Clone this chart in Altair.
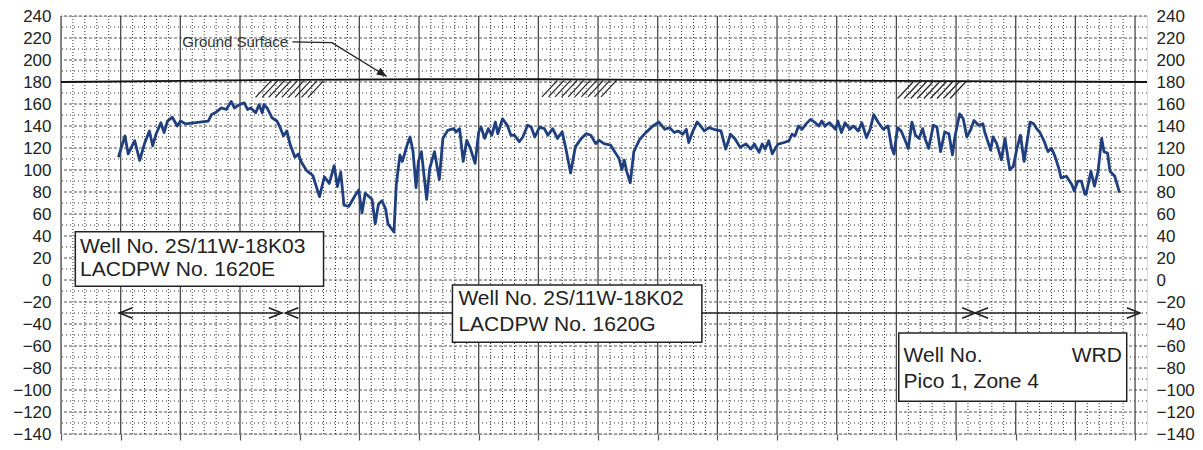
import altair as alt
import pandas as pd

# ---------------- data ----------------
well_years = [1929.81, 1930.36, 1930.63, 1931.18, 1931.59, 1932.0, 1932.41, 1932.68, 1932.96, 1933.37,
              1933.64, 1933.92, 1934.33, 1934.74, 1935.01, 1935.42, 1937.34, 1937.62, 1938.03, 1938.44,
              1938.85, 1939.26, 1939.53, 1939.95, 1940.36, 1940.63, 1940.9, 1941.32, 1941.59, 1941.86,
              1942.0, 1942.27, 1942.68, 1943.1, 1943.37, 1943.64, 1943.92, 1944.19, 1944.6, 1944.88,
              1945.15, 1945.56, 1946.1, 1946.66, 1947.07, 1947.48, 1947.89, 1948.16, 1948.44, 1948.71,
              1949.12, 1949.67, 1949.95, 1950.22, 1950.49, 1951.06, 1951.33, 1951.6, 1951.9, 1952.2,
              1952.4, 1952.9, 1953.1, 1953.4, 1953.6, 1953.8, 1954.0, 1954.25, 1954.5, 1954.75,
              1954.95, 1955.2, 1955.64, 1955.9, 1956.3, 1956.7, 1957.0, 1957.4, 1957.9, 1958.1,
              1958.4, 1958.7, 1959.0, 1959.3, 1959.7, 1960.0, 1960.2, 1960.5, 1960.8, 1961.1,
              1961.4, 1961.6, 1962.0, 1962.4, 1962.7, 1963.0, 1963.4, 1963.7, 1964.1, 1964.4,
              1964.7, 1965.1, 1965.5, 1965.8, 1966.2, 1966.6, 1967.0, 1967.3, 1967.7, 1968.1,
              1968.6, 1969.0, 1969.4, 1969.8, 1970.1, 1970.5, 1971.05, 1971.3, 1971.75, 1972.0,
              1972.2, 1972.4, 1972.7, 1973.0, 1973.5, 1974.0, 1974.6, 1975.1, 1975.6, 1976.0,
              1976.4, 1976.7, 1977.1, 1977.4, 1977.6, 1977.9, 1978.3, 1978.6, 1978.9, 1979.3,
              1979.7, 1980.3, 1980.7, 1981.1, 1981.5, 1981.9, 1982.4, 1982.8, 1983.1, 1983.5,
              1983.75, 1984.0, 1984.3, 1984.6, 1984.9, 1985.1, 1985.6, 1986.0, 1986.25, 1986.5,
              1986.8, 1987.1, 1987.4, 1987.8, 1988.2, 1988.5, 1988.75, 1989.0, 1989.4, 1989.9,
              1990.1, 1990.4, 1990.7, 1991.1, 1991.4, 1991.8, 1992.1, 1992.5, 1992.8, 1993.1,
              1993.5, 1993.9, 1994.3, 1994.6, 1994.8, 1995.1, 1995.4, 1995.7, 1996.0, 1996.3,
              1996.6, 1996.9, 1997.2, 1997.4, 1997.7, 1998.1, 1998.4, 1998.7, 1999.05, 1999.4,
              1999.7, 1999.9, 2000.3, 2000.6, 2000.9, 2001.2, 2001.5, 2001.9, 2002.25, 2002.4,
              2002.9, 2003.1, 2003.4, 2003.8, 2004.1, 2004.5, 2004.8, 2005.1, 2005.4, 2005.7,
              2006.2, 2006.5, 2006.75, 2007.0, 2007.4, 2007.7, 2008.0, 2008.3, 2008.6, 2008.8,
              2009.25, 2009.7, 2009.9, 2010.2, 2010.5, 2010.8, 2010.9, 2011.3, 2011.6, 2011.9,
              2012.2, 2012.4, 2012.7, 2012.9, 2013.3, 2013.7]
well_levels = [111.6, 131, 114.6, 126.6, 108.7, 124, 135.5, 122, 132.5, 143,
               134, 144.5, 148, 140, 144.5, 142, 144.5, 150.5, 152.8, 156.4,
               155, 162.4, 156.4, 159.4, 161, 155, 156.4, 152, 159.4, 152,
               159.4, 156.4, 147.5, 144.5, 138.5, 131, 135.5, 123.6, 111.6, 114.6,
               107, 99.7, 95, 75.8, 93.7, 87.8, 104, 85, 98, 68,
               67, 77.3, 81.8, 61, 78.8, 73.4, 51, 69, 72, 64.5,
               51, 43.6, 87, 113.7, 107.8, 115, 122.7, 130, 116.7, 84,
               107.8, 116.7, 73.4, 101.8, 116.7, 91.3, 128.7, 136, 137.6, 134.6,
               137.6, 107.8, 127, 119.7, 106, 134.6, 139, 128.7, 137.6, 131.6,
               143.6, 133, 146.6, 140.6, 131.6, 131.6, 125.7, 130, 140.6, 139,
               130, 139, 137.6, 131.6, 137.6, 128.7, 134.6, 119.7, 97.3, 121,
               128.7, 133, 131.6, 124, 127, 124, 122.7, 118.2, 110.7, 100.3,
               109, 98.8, 88.4, 116.7, 128, 134, 140, 143.6, 137, 138.5,
               134, 135.5, 132.5, 137, 125, 134, 143.6, 140, 135.5, 138.5,
               137, 135.5, 119, 132.5, 128, 120.6, 123.6, 119, 123.6, 116,
               123.6, 119, 126.6, 114.6, 120.6, 123.6, 125, 126.6, 132.5, 131,
               140, 137, 141.5, 146, 143, 140, 144.5, 140, 143, 137,
               144.5, 134, 143, 137, 140, 135.5, 143, 129.5, 137, 150.4,
               143, 137, 140, 120.6, 114.6, 138.5, 135.5, 128, 119.5, 143.6,
               131.6, 128.7, 137.6, 128.7, 119.7, 140.6, 139, 116.7, 134.6, 133,
               113.7, 130, 151, 146.6, 130, 136, 145, 140.6, 142, 134.6,
               118.2, 130, 124.2, 109.3, 128.7, 100.3, 103.3, 119.7, 131.6, 107.8,
               143.6, 142, 137.6, 134.6, 125.7, 116.7, 119.7, 112.2, 101.8, 92.8,
               94.3, 86.9, 80.9, 89.9, 89.9, 77.9, 77.9, 98.8, 85.4, 98.8,
               128.7, 116.7, 115.2, 98.8, 94.3, 79.4]

ground_years = [1925, 1935, 1945, 1955, 1965, 1975, 1985, 1995, 2005, 2016]
ground_levels = [180, 181, 182, 182.5, 182.5, 182, 181.5, 181, 180.5, 180]

# hatch strokes under the ground surface (top x of each stroke, top level)
hatch_x = [1942.6, 1943.15, 1943.7, 1944.25, 1944.8, 1945.35, 1945.9, 1946.45, 1947.0,
           1966.6, 1967.15, 1967.7, 1968.25, 1968.8, 1969.35, 1969.9, 1970.45, 1971.0, 1971.55,
           1996.4, 1996.95, 1997.5, 1998.05, 1998.6, 1999.15, 1999.7, 2000.25, 2000.8]
hatch_top = [181] * 9 + [181.5] * 10 + [180] * 9

# well-period arrows at -30
arrow_start = [1929.9, 1943.8, 2001.6]
arrow_end = [1943.5, 2001.6, 2015.4]
arrow_level = [-30, -30, -30]

# label boxes
box_x = [1926.2, 1957.8, 1995.2]
box_x2 = [1947.0, 1978.7, 2014.3]
box_top = [43.8, -4.6, -48.2]
box_bottom = [-5.6, -56.7, -110.2]

label_text = ["Well No. 2S/11W-18K03", "LACDPW No. 1620E",
              "Well No. 2S/11W-18K02", "LACDPW No. 1620G",
              "Well No.", "Pico 1, Zone 4"]
label_x = [1926.6, 1926.6, 1958.3, 1958.3, 1995.6, 1995.6]
label_y = [29.9, 9.3, -17.2, -40.6, -68.9, -92.3]
wrd_text = ["WRD"]
wrd_x = [2013.9]
wrd_y = [-68.9]

leader_x = [1944.4, 1947.7, 1952.3]
leader_y = [216.5, 215.8, 185]
ground_label = ["Ground Surface"]
ground_label_x = [1939.6]
ground_label_y = [216.5]

y_ticks = list(range(-140, 241, 20))
y_half = list(range(-130, 240, 20))
x_major = list(range(1925, 2016, 5))
x_minor = [y for y in range(1926, 2016) if y % 5 != 0]

# ---------------- chart ----------------
W, H = 1086, 418
FONT = "Liberation Sans"
xs = alt.Scale(domain=[1925, 2016], nice=False, zero=False)
ys = alt.Scale(domain=[-140, 240], nice=False, zero=False)
xaxis = alt.Axis(values=x_major, labels=False, ticks=True, tickSize=6, tickColor="#555",
                 tickWidth=1.2, domain=False, grid=False, title=None)


def X(f):
    return alt.X(f, type="quantitative", scale=xs, axis=xaxis)


def Y(f, axis=None):
    return alt.Y(f, type="quantitative", scale=ys, axis=axis)


left_axis = alt.Axis(orient="left", values=y_ticks, grid=False, ticks=False, domain=False,
                     labelFontSize=17, labelColor="#222", labelPadding=10, title=None, labelFont=FONT)
right_axis = alt.Axis(orient="right", values=y_ticks, grid=False, ticks=False, domain=False,
                      labelFontSize=17, labelColor="#222", labelPadding=9, title=None, labelFont=FONT)

hmaj = alt.Chart(pd.DataFrame({"v": y_ticks})).mark_rule(
    color="#555", strokeWidth=1, strokeDash=[3, 2]).encode(y=Y("v", left_axis))
hmin = alt.Chart(pd.DataFrame({"v": y_half})).mark_rule(
    color="#333", strokeWidth=1, strokeDash=[1, 3]).encode(y=Y("v"))
vmin = alt.Chart(pd.DataFrame({"t": x_minor})).mark_rule(
    color="#333", strokeWidth=1, strokeDash=[1, 2]).encode(x=X("t"))
vmaj = alt.Chart(pd.DataFrame({"t": x_major})).mark_rule(
    color="#4a4a4a", strokeWidth=1.3).encode(x=X("t"))

ground = alt.Chart(pd.DataFrame({"t": ground_years, "v": ground_levels})).mark_line(
    color="#111", strokeWidth=1.8).encode(x=X("t"), y=Y("v"))

hatch_df = pd.DataFrame({"t": hatch_x, "v": hatch_top})
hatch_df["t2"] = hatch_df["t"] - 1.3
hatch_df["v2"] = hatch_df["v"] - 15
hatch = alt.Chart(hatch_df).mark_rule(color="#222", strokeWidth=1.2).encode(
    x=X("t"), x2="t2", y=Y("v"), y2="v2")

well = alt.Chart(pd.DataFrame({"t": well_years, "v": well_levels})).mark_line(
    color="#1f3f7f", strokeWidth=2.8, strokeJoin="round").encode(x=X("t"), y=Y("v", right_axis))

leader = alt.Chart(pd.DataFrame({"t": leader_x, "v": leader_y, "o": [0, 1, 2]})).mark_line(
    color="#222", strokeWidth=1.4).encode(x=X("t"), y=Y("v"), order="o")
leader_head = alt.Chart(pd.DataFrame({"t": leader_x[-1:], "v": leader_y[-1:]})).mark_point(
    shape="M0,0L-1,-0.4L-1,0.4Z", size=400, angle=32, filled=True, color="#222", opacity=1
).encode(x=X("t"), y=Y("v"))
ground_txt = alt.Chart(pd.DataFrame({"t": ground_label_x, "v": ground_label_y, "s": ground_label})).mark_text(
    fontSize=15, font=FONT, color="#333", align="center", baseline="middle").encode(
    x=X("t"), y=Y("v"), text="s")

arr_df = pd.DataFrame({"t": arrow_start, "t2": arrow_end, "v": arrow_level})
arrows = alt.Chart(arr_df).mark_rule(color="#222", strokeWidth=1.6).encode(x=X("t"), x2="t2", y=Y("v"))
heads_l = alt.Chart(arr_df).mark_point(
    shape="M1,-0.4L0,0L1,0.4", size=676, filled=False, color="#222", strokeWidth=1.6, opacity=1
).encode(x=X("t"), y=Y("v"))
heads_r = alt.Chart(arr_df).mark_point(
    shape="M-1,-0.4L0,0L-1,0.4", size=676, filled=False, color="#222", strokeWidth=1.6, opacity=1
).encode(x=alt.X("t2", type="quantitative", scale=xs, axis=xaxis), y=Y("v"))

boxes = alt.Chart(pd.DataFrame({"t": box_x, "t2": box_x2, "v": box_top, "v2": box_bottom})).mark_rect(
    fill="white", stroke="#222", strokeWidth=1.5).encode(x=X("t"), x2="t2", y=Y("v"), y2="v2")
labels = alt.Chart(pd.DataFrame({"t": label_x, "v": label_y, "s": label_text})).mark_text(
    fontSize=21, font=FONT, color="#222", align="left", baseline="middle").encode(
    x=X("t"), y=Y("v"), text="s")
wrd = alt.Chart(pd.DataFrame({"t": wrd_x, "v": wrd_y, "s": wrd_text})).mark_text(
    fontSize=21, font=FONT, color="#222", align="right", baseline="middle").encode(
    x=X("t"), y=Y("v"), text="s")

chart = alt.layer(
    hmaj, hmin, vmin, vmaj, ground, hatch, well, leader, leader_head, ground_txt,
    arrows, heads_l, heads_r, boxes, labels, wrd
).resolve_axis(y="independent").properties(
    width=W, height=H, autosize="none",
    padding={"left": 53, "top": 8, "right": 48, "bottom": 8},
    background="white",
).configure_view(stroke="#777", strokeWidth=1.5).configure(font=FONT)

chart.save("out.html", embed_options={"renderer": "svg", "actions": False})
